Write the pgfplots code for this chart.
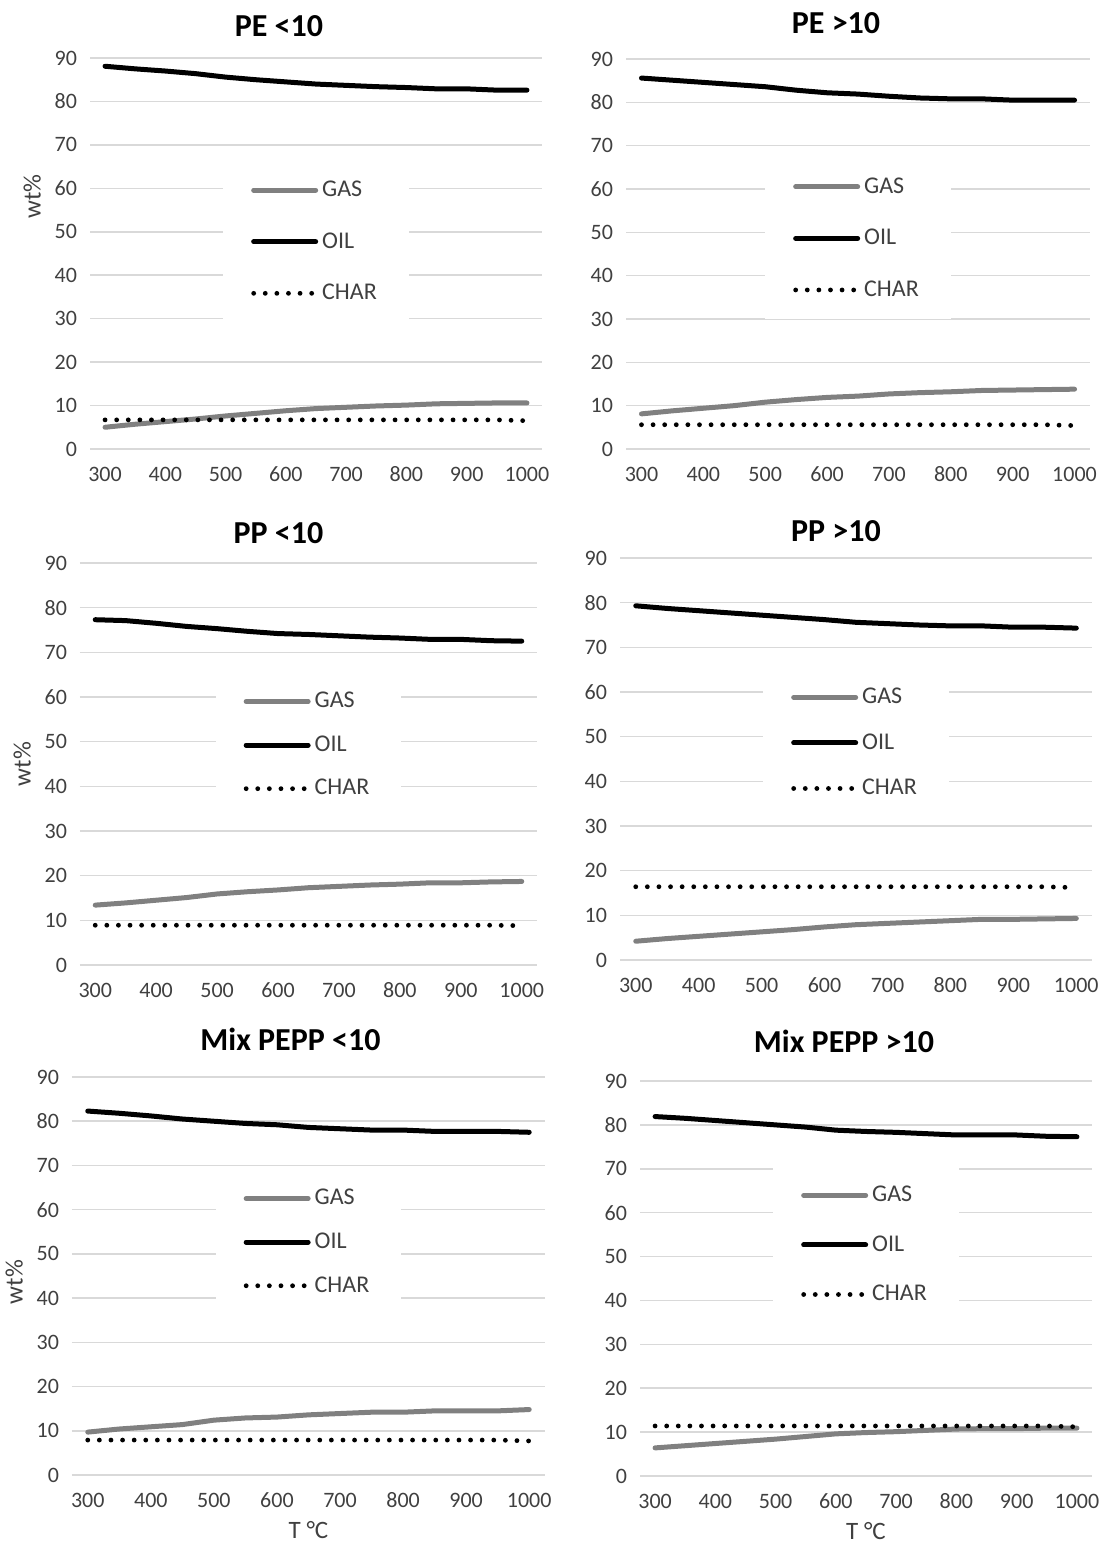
\documentclass[border=0pt]{standalone}
\usepackage{fontspec}
\setmainfont{Carlito}
\usepackage{pgfplots}
\pgfplotsset{compat=1.18}
\definecolor{gasc}{HTML}{808080}
\definecolor{gridc}{HTML}{D9D9D9}
\definecolor{txt}{HTML}{404040}
\pgfplotsset{
  panel/.style={
    scale only axis,
    anchor=south west,
    xmin=275, xmax=1025, ymin=0, ymax=90,
    xtick={300,400,...,1000}, ytick={0,10,...,90},
    axis line style={draw=none},
    tick style={draw=none},
    major tick length=0pt,
    ymajorgrids, grid style={gridc, line width=0.8pt},
    tick label style={font=\fontsize{11}{13}\selectfont, text=txt},
    xticklabel style={yshift=-5pt, text height=1.6ex, text depth=0pt},
    yticklabel style={xshift=-3pt},
    /pgf/number format/assume math mode=true,
    /pgf/number format/1000 sep={},
    title style={font=\fontsize{16}{19}\selectfont\bfseries, text=black},
    label style={font=\fontsize{12.5}{14}\selectfont, text=txt},
    legend cell align=left,
    legend style={draw=none, fill=white, font=\fontsize{12}{14}\selectfont, text=txt,
      anchor=center, inner xsep=14pt, inner ysep=8pt, row sep=12.5pt},
    legend image code/.code={\draw[##1] (0pt,0pt) -- (31pt,0pt);},
  },
  gas/.style={gasc, line width=2.5pt, line cap=round, line join=round},
  oil/.style={black, line width=2.5pt, line cap=round, line join=round},
  char/.style={black, line width=2.4pt, line cap=round, dash pattern=on 0pt off 5.8pt},
}
\begin{document}
\begin{tikzpicture}
\useasboundingbox (0,0) rectangle (556.5pt,775pt);
% ---------- PE <10
\begin{axis}[panel, at={(45pt,550.5pt)}, width=226pt, height=195.5pt,
  title={PE <10}, title style={xshift=-18.5pt, yshift=1pt},
  ylabel={wt\%}, ylabel style={at={(ticklabel cs:0.645)}},
  legend style={at={(0.5,0.53)}}]
\addplot[gas] coordinates {(300,5.0)(350,5.7)(400,6.3)(450,6.9)(500,7.6)(550,8.2)(600,8.8)(650,9.3)(700,9.6)(750,9.9)(800,10.1)(850,10.4)(900,10.5)(950,10.6)(1000,10.6)};
\addlegendentry{GAS}
\addplot[oil] coordinates {(300,88.1)(350,87.5)(400,87.0)(450,86.4)(500,85.6)(550,85.0)(600,84.5)(650,84.0)(700,83.7)(750,83.4)(800,83.2)(850,82.9)(900,82.9)(950,82.6)(1000,82.6)};
\addlegendentry{OIL}
\addplot[char] coordinates {(300,6.7)(350,6.7)(400,6.7)(450,6.7)(500,6.7)(550,6.7)(600,6.7)(650,6.7)(700,6.7)(750,6.7)(800,6.7)(850,6.7)(900,6.7)(950,6.7)(1000,6.5)};
\addlegendentry{CHAR}
\end{axis}
% ---------- PE >10
\begin{axis}[panel, at={(313pt,550.5pt)}, width=232pt, height=195pt,
  title={PE >10}, title style={xshift=-11pt, yshift=3pt},
  legend style={at={(0.5,0.54)}}]
\addplot[gas] coordinates {(300,8.1)(350,8.8)(400,9.4)(450,10.0)(500,10.8)(550,11.4)(600,11.9)(650,12.2)(700,12.7)(750,13.0)(800,13.2)(850,13.5)(900,13.6)(950,13.7)(1000,13.8)};
\addlegendentry{GAS}
\addplot[oil] coordinates {(300,85.6)(350,85.1)(400,84.6)(450,84.1)(500,83.6)(550,82.8)(600,82.2)(650,81.9)(700,81.4)(750,81.0)(800,80.8)(850,80.8)(900,80.5)(950,80.5)(1000,80.5)};
\addlegendentry{OIL}
\addplot[char] coordinates {(300,5.6)(350,5.6)(400,5.6)(450,5.6)(500,5.6)(550,5.6)(600,5.6)(650,5.6)(700,5.6)(750,5.6)(800,5.6)(850,5.6)(900,5.6)(950,5.6)(1000,5.4)};
\addlegendentry{CHAR}
\end{axis}
% ---------- PP <10
\begin{axis}[panel, at={(40pt,292.5pt)}, width=228.5pt, height=201pt,
  title={PP <10}, title style={xshift=-15pt},
  ylabel={wt\%}, ylabel style={at={(ticklabel cs:0.5)}},
  legend style={at={(0.5,0.547)}, row sep=8.5pt}]
\addplot[gas] coordinates {(300,13.4)(350,13.9)(400,14.5)(450,15.1)(500,15.9)(550,16.4)(600,16.8)(650,17.3)(700,17.6)(750,17.9)(800,18.1)(850,18.4)(900,18.4)(950,18.6)(1000,18.7)};
\addlegendentry{GAS}
\addplot[oil] coordinates {(300,77.3)(350,77.1)(400,76.5)(450,75.8)(500,75.3)(550,74.7)(600,74.2)(650,74.0)(700,73.7)(750,73.4)(800,73.2)(850,72.9)(900,72.9)(950,72.6)(1000,72.5)};
\addlegendentry{OIL}
\addplot[char] coordinates {(300,8.9)(350,8.9)(400,8.9)(450,8.9)(500,8.9)(550,8.9)(600,8.9)(650,8.9)(700,8.9)(750,8.9)(800,8.9)(850,8.9)(900,8.9)(950,8.9)(1000,8.8)};
\addlegendentry{CHAR}
\end{axis}
% ---------- PP >10
\begin{axis}[panel, at={(310pt,295pt)}, width=236pt, height=201pt,
  title={PP >10}, title style={xshift=-10pt, yshift=-1.5pt},
  legend style={at={(0.5,0.54)}, row sep=9.5pt}]
\addplot[gas] coordinates {(300,4.2)(350,4.8)(400,5.3)(450,5.8)(500,6.3)(550,6.8)(600,7.4)(650,7.9)(700,8.2)(750,8.5)(800,8.8)(850,9.1)(900,9.1)(950,9.2)(1000,9.3)};
\addlegendentry{GAS}
\addplot[oil] coordinates {(300,79.3)(350,78.7)(400,78.2)(450,77.7)(500,77.2)(550,76.7)(600,76.2)(650,75.6)(700,75.3)(750,75.0)(800,74.8)(850,74.8)(900,74.5)(950,74.5)(1000,74.3)};
\addlegendentry{OIL}
\addplot[char] coordinates {(300,16.4)(350,16.4)(400,16.4)(450,16.4)(500,16.4)(550,16.4)(600,16.4)(650,16.4)(700,16.4)(750,16.4)(800,16.4)(850,16.4)(900,16.4)(950,16.4)(1000,16.2)};
\addlegendentry{CHAR}
\end{axis}
% ---------- Mix PEPP <10
\begin{axis}[panel, at={(36pt,37.5pt)}, width=236.5pt, height=199pt,
  title={Mix PEPP <10}, title style={xshift=-9pt, yshift=3.5pt},
  ylabel={wt\%}, ylabel style={at={(ticklabel cs:0.485)}},
  xlabel={T °C},
  legend style={at={(0.5,0.585)}, row sep=8.5pt}]
\addplot[gas] coordinates {(300,9.7)(350,10.4)(400,10.9)(450,11.4)(500,12.4)(550,12.9)(600,13.1)(650,13.6)(700,13.9)(750,14.2)(800,14.2)(850,14.5)(900,14.5)(950,14.5)(1000,14.8)};
\addlegendentry{GAS}
\addplot[oil] coordinates {(300,82.3)(350,81.8)(400,81.2)(450,80.5)(500,80.0)(550,79.5)(600,79.2)(650,78.6)(700,78.3)(750,78.0)(800,78.0)(850,77.7)(900,77.7)(950,77.7)(1000,77.5)};
\addlegendentry{OIL}
\addplot[char] coordinates {(300,7.9)(350,7.9)(400,7.9)(450,7.9)(500,7.9)(550,7.9)(600,7.9)(650,7.9)(700,7.9)(750,7.9)(800,7.9)(850,7.9)(900,7.9)(950,7.9)(1000,7.7)};
\addlegendentry{CHAR}
\end{axis}
% ---------- Mix PEPP >10
\begin{axis}[panel, at={(320pt,37pt)}, width=226pt, height=197.5pt,
  title={Mix PEPP >10}, title style={xshift=-11pt, yshift=4.5pt},
  xlabel={T °C},
  legend style={at={(0.5,0.585)}, row sep=11.5pt}]
\addplot[gas] coordinates {(300,6.4)(350,6.9)(400,7.4)(450,7.9)(500,8.4)(550,9.0)(600,9.6)(650,9.9)(700,10.1)(750,10.4)(800,10.7)(850,10.8)(900,10.8)(950,10.9)(1000,10.9)};
\addlegendentry{GAS}
\addplot[oil] coordinates {(300,81.9)(350,81.5)(400,81.0)(450,80.5)(500,80.0)(550,79.5)(600,78.8)(650,78.5)(700,78.3)(750,78.0)(800,77.7)(850,77.7)(900,77.7)(950,77.4)(1000,77.3)};
\addlegendentry{OIL}
\addplot[char] coordinates {(300,11.4)(350,11.4)(400,11.4)(450,11.4)(500,11.4)(550,11.4)(600,11.4)(650,11.4)(700,11.4)(750,11.4)(800,11.4)(850,11.4)(900,11.4)(950,11.4)(1000,11.2)};
\addlegendentry{CHAR}
\end{axis}
\end{tikzpicture}
\end{document}
